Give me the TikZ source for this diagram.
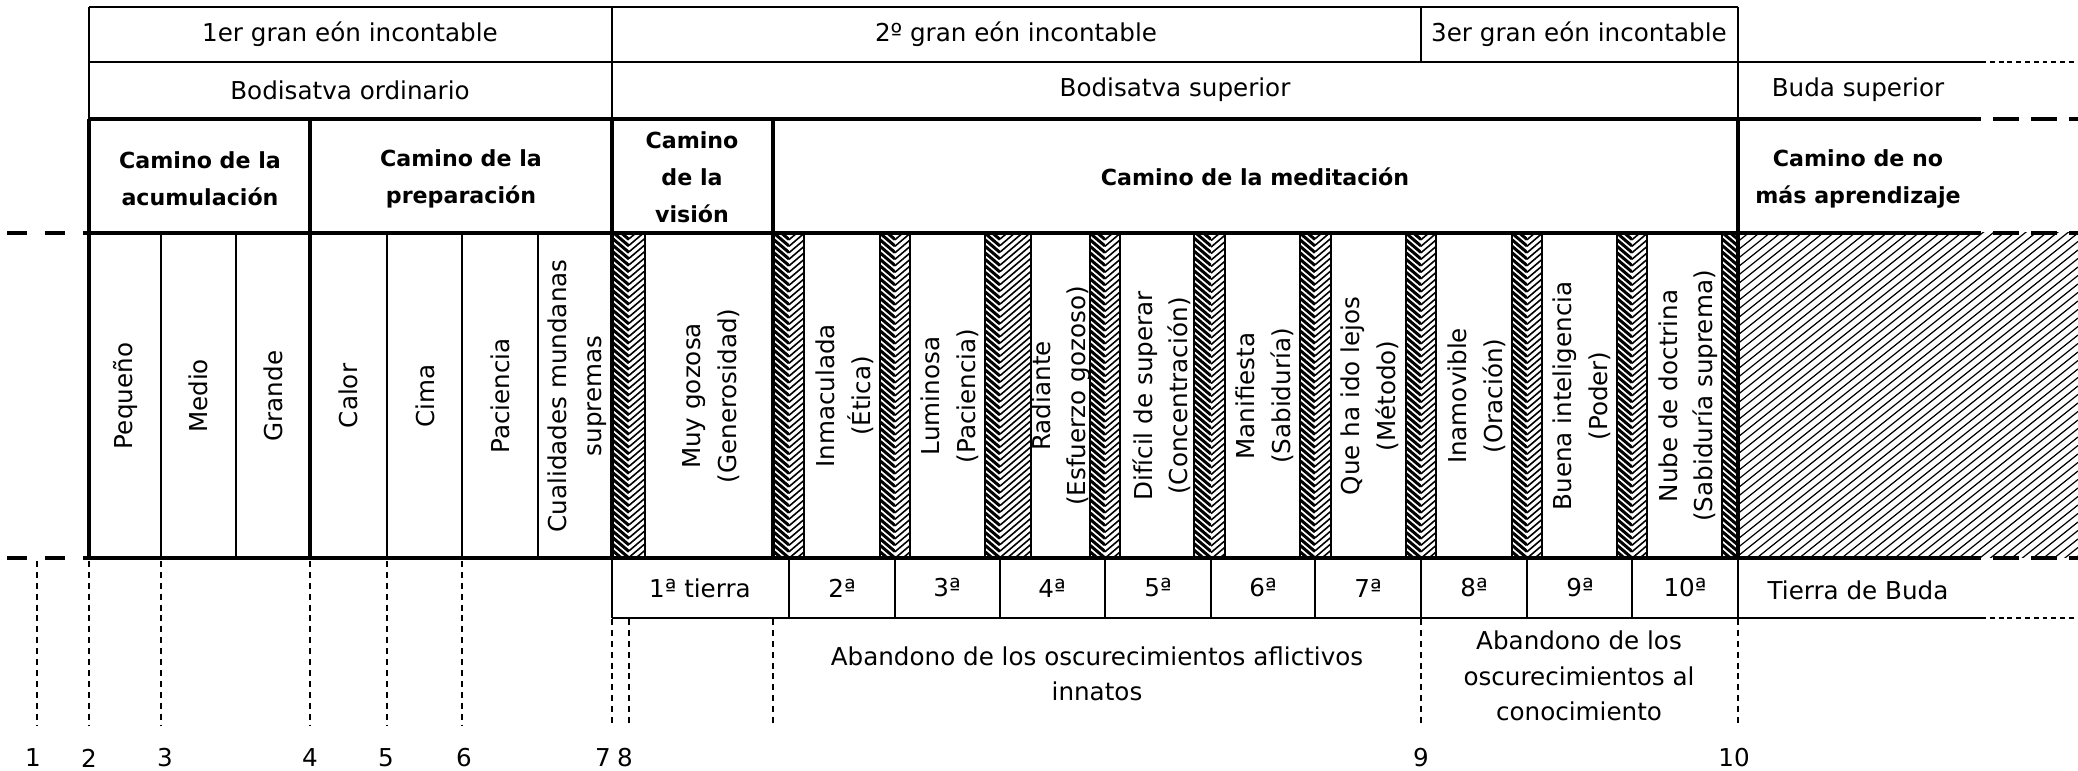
\documentclass[tikz,border=0pt]{standalone}
\usepackage{fontspec}
\setmainfont{DejaVu Sans}
% #1 x-left, #2 x-right, #3 y-top, #4 y-bottom, #5 spacing, #6 slope, #7 style
\newcommand{\hatchrect}[7]{%
  \begin{scope}
    \clip (#1,#3) rectangle (#2,#4);
    \pgfmathsetmacro{\hw}{(#2-#1)*(#6)}
    \pgfmathsetmacro{\ha}{#3-abs(\hw)}
    \pgfmathsetmacro{\hb}{\ha+#5}
    \pgfmathsetmacro{\hc}{#4+abs(\hw)}
    \foreach \t in {\ha,\hb,...,\hc}
      \draw[#7] (#1,\t) -- (#2,\t+\hw);
  \end{scope}}
\begin{document}
\begin{tikzpicture}[x=0.01cm,y=-0.01cm,
  thinln/.style={line width=0.5pt},
  thickln/.style={line width=1.4pt},
  hb/.style={line width=0.85pt},
  hf/.style={line width=0.45pt},
  hbig/.style={line width=0.35pt},
  lbl/.style={font=\fontsize{7}{10.1}\selectfont, align=center, inner sep=0pt},
  hd/.style={font=\fontsize{6.3}{10.5}\selectfont\bfseries, align=center, inner sep=0pt},
  vlbl/.style={lbl, rotate=90},
  dashv/.style={line width=0.5pt, dash pattern=on 1.7pt off 1.4pt},
  dashvb/.style={line width=0.8pt, dash pattern=on 1.7pt off 1.4pt},
  thickdash/.style={line width=1.4pt, dash pattern=on 7.5pt off 3.3pt},
  leftdash/.style={line width=1.4pt, dash pattern=on 5.7pt off 5.1pt},
  thindash/.style={line width=0.5pt, dash pattern=on 1.4pt off 1.1pt}]
\useasboundingbox (0,0) rectangle (2078,771);

% ---------- hatching ----------
\foreach \a/\m/\b in {612/629/645, 773/789/804, 880/895/910, 985/1000/1031,
    1090/1105/1120, 1194/1211/1225, 1300/1315/1331, 1406/1421/1436,
    1512/1527/1542, 1617/1632/1647} {
  \hatchrect{\a}{\m}{233}{558}{6.5}{0.85}{hb}
  \hatchrect{\m}{\b}{233}{558}{6.5}{-0.85}{hf}
}
\hatchrect{1722}{1738}{233}{558}{6.5}{0.85}{hb}
\hatchrect{1738}{2078}{233}{558}{8.5}{-0.8}{hbig}

% ---------- top rows ----------
\draw[thinln] (89,7) -- (1738,7);
\draw[thinln] (89,62) -- (1981,62);
\draw[thindash] (1981,62) -- (2078,62);
\draw[thinln] (89,7) -- (89,119);
\draw[thinln] (612,7) -- (612,119);
\draw[thinln] (1421,7) -- (1421,62);
\draw[thinln] (1738,7) -- (1738,119);

% ---------- thick frame ----------
\draw[thickln] (89,119) -- (1981,119);
\draw[thickdash] (1993,119) -- (2078,119);
\foreach \y in {233,558} {
  \draw[thickln] (89,\y) -- (1981,\y);
  \draw[leftdash] (7,\y) -- (89,\y);
  \draw[thickdash] (1993,\y) -- (2078,\y);
}
\foreach \x in {89,310,612,773,1738}
  \draw[thickln] (\x,119) -- (\x,558);
\foreach \x in {161,236,387,462,538,645,804,880,910,985,1031,1090,1120,
    1194,1225,1300,1331,1406,1436,1512,1542,1617,1647,1722}
  \draw[thinln] (\x,233) -- (\x,558);

% ---------- land row ----------
\draw[thinln] (612,618) -- (1981,618);
\draw[thindash] (1981,618) -- (2078,618);
\foreach \x in {612,789,895,1000,1105,1211,1315,1421,1527,1632,1738}
  \draw[thinln] (\x,558) -- (\x,618);

% ---------- dashed markers ----------
\foreach \x in {37,161,387,462}
  \draw[dashv] (\x,561) -- (\x,725);
\foreach \x in {89,310}
  \draw[dashvb] (\x,561) -- (\x,725);
\foreach \x in {612,629,773,1421,1738}
  \draw[dashv] (\x,619) -- (\x,725);

% ---------- texts: top rows ----------
\node[lbl] (eon1) at (350,34) {1er gran eón incontable};
\node[lbl] (eon2) at (1016,34) {2º gran eón incontable};
\node[lbl] (eon3) at (1579,34) {3er gran eón incontable};
\node[lbl] (bodo) at (350,90) {Bodisatva ordinario};
\node[lbl] (bods) at (1175,90) {Bodisatva superior};
\node[lbl] (budas) at (1858,90) {Buda superior};

% ---------- paths ----------
\node[hd] (acum) at (200,179) {Camino de la\\acumulación};
\node[hd] (prep) at (461,179) {Camino de la\\preparación};
\node[hd] (vis) at (692,177) {Camino\\de la\\visión};
\node[hd] (med) at (1255,177) {Camino de la meditación};
\node[hd] (noap) at (1858,179) {Camino de no\\más aprendizaje};

% ---------- vertical labels ----------
\node[vlbl] (v1) at (125,396) {Pequeño};
\node[vlbl] (v2) at (198,396) {Medio};
\node[vlbl] (v3) at (273,396) {Grande};
\node[vlbl] (v4) at (348,396) {Calor};
\node[vlbl] (v5) at (425,396) {Cima};
\node[vlbl] (v6) at (500,396) {Paciencia};
\node[vlbl] (v7) at (577,396) {Cualidades mundanas\\supremas};
\node[vlbl] (t1) at (711,396) {Muy gozosa\\(Generosidad)};
\node[vlbl] (t2) at (845,396) {Inmaculada\\(Ética)};
\node[vlbl] (t3) at (950,396) {Luminosa\\(Paciencia)};
\node[vlbl] (t4) at (1061,396) {Radiante\\(Esfuerzo gozoso)};
\node[vlbl] (t5) at (1162,396) {Difícil de superar\\(Concentración)};
\node[vlbl] (t6) at (1265,396) {Manifiesta\\(Sabiduría)};
\node[vlbl] (t7) at (1370,396) {Que ha ido lejos\\(Método)};
\node[vlbl] (t8) at (1477,396) {Inamovible\\(Oración)};
\node[vlbl] (t9) at (1582,396) {Buena inteligencia\\(Poder)};
\node[vlbl] (t10) at (1688,396) {Nube de doctrina\\(Sabiduría suprema)};

% ---------- lands ----------
\node[lbl] (l1) at (700,588) {1ª tierra};
\node[lbl] (l2) at (842,588) {2ª};
\node[lbl] (l3) at (947,588) {3ª};
\node[lbl] (l4) at (1052,588) {4ª};
\node[lbl] (l5) at (1158,588) {5ª};
\node[lbl] (l6) at (1263,588) {6ª};
\node[lbl] (l7) at (1368,588) {7ª};
\node[lbl] (l8) at (1474,588) {8ª};
\node[lbl] (l9) at (1580,588) {9ª};
\node[lbl] (l10) at (1685,588) {10ª};
\node[lbl] (lb) at (1858,590) {Tierra de Buda};

% ---------- abandonment ----------
\node[lbl] (ab1) at (1097,674) {Abandono de los oscurecimientos aflictivos\\innatos};
\node[lbl] (ab2) at (1579,676) {Abandono de los\\oscurecimientos al\\conocimiento};

% ---------- numbers ----------
\foreach \n/\x in {1/33,2/89,3/165,4/310,5/386,6/464,7/603,8/625,9/1421,10/1734}
  \node[lbl] (n\n) at (\x,758) {\n};
\end{tikzpicture}
\end{document}
